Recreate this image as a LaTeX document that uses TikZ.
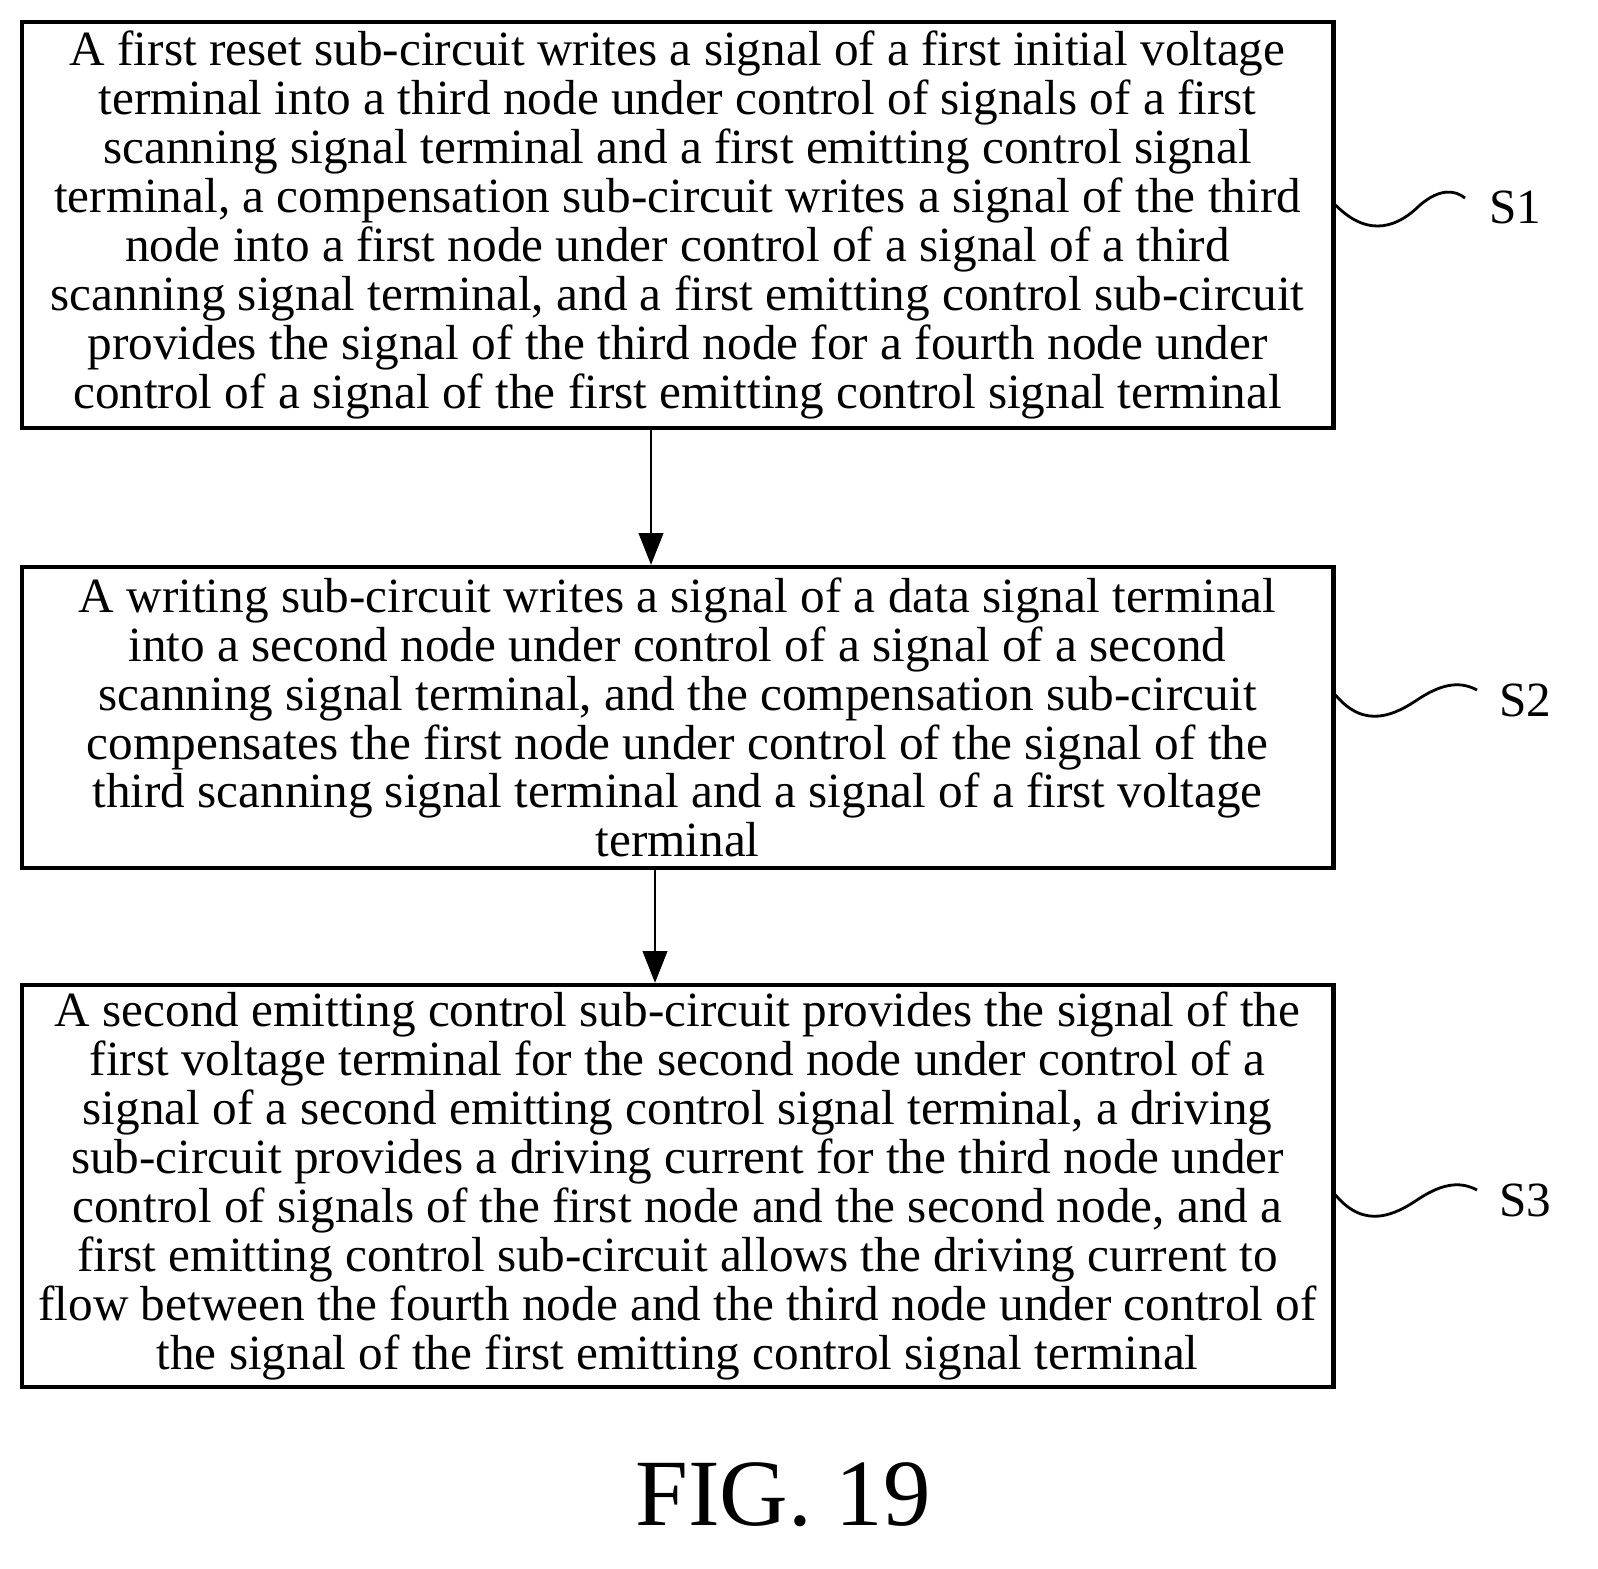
\documentclass[tikz,border=0pt]{standalone}
\usepackage{fontspec}
\setmainfont{Liberation Serif}
\usetikzlibrary{arrows.meta}
\begin{document}
\begin{tikzpicture}[x=0.01cm,y=-0.01cm,
  stepbox/.style={draw,line width=1.2pt,minimum width=13.11cm,align=center,font=\fontsize{14}{13.9}\selectfont,inner sep=0pt},
  conn/.style={-{Triangle[length=9pt,width=7pt]},line width=0.5pt},
  wave/.style={line width=0.8pt},
  lab/.style={font=\fontsize{14}{14}\selectfont}]
\useasboundingbox (0,0) rectangle (1598,1568);
\node[stepbox,minimum height=4.06cm] (b1) at (677.5,225) {A first reset sub-circuit writes a signal of a first initial voltage\\terminal into a third node under control of signals of a first\\scanning signal terminal and a first emitting control signal\\terminal, a compensation sub-circuit writes a signal of the third\\node into a first node under control of a signal of a third\\scanning signal terminal, and a first emitting control sub-circuit\\provides the signal of the third node for a fourth node under\\control of a signal of the first emitting control signal terminal};
\node[stepbox,minimum height=3.01cm] (b2) at (677.5,717.5) {A writing sub-circuit writes a signal of a data signal terminal\\into a second node under control of a signal of a second\\scanning signal terminal, and the compensation sub-circuit\\compensates the first node under control of the signal of the\\third scanning signal terminal and a signal of a first voltage\\terminal};
\node[stepbox,minimum height=4.02cm] (b3) at (677.5,1186) {A second emitting control sub-circuit provides the signal of the\\first voltage terminal for the second node under control of a\\signal of a second emitting control signal terminal, a driving\\sub-circuit provides a driving current for the third node under\\control of signals of the first node and the second node, and a\\first emitting control sub-circuit allows the driving current to\\flow between the fourth node and the third node under control of\\the signal of the first emitting control signal terminal};
\draw[conn] (b1.south -| 651,0) -- (b2.north -| 651,0);
\draw[conn] (b2.south -| 655,0) -- (b3.north -| 655,0);
\node[lab] (s1) at (1515,207) {S1};
\node[lab] (s2) at (1525,700) {S2};
\node[lab] (s3) at (1525,1200) {S3};
\coordinate (w1) at (1465,198);
\coordinate (w2) at (1477,690);
\coordinate (w3) at (1477,1190);
\draw[wave] (b1.east |- 0,205) .. controls (1370,240) and (1400,225) .. (1420,205) .. controls (1440,188) and (1455,190) .. (w1);
\draw[wave] (b2.east |- 0,695) .. controls (1365,730) and (1395,715) .. (1420,698) .. controls (1445,682) and (1462,682) .. (w2);
\draw[wave] (b3.east |- 0,1195) .. controls (1365,1230) and (1395,1215) .. (1420,1198) .. controls (1445,1182) and (1462,1182) .. (w3);
\node[font=\fontsize{27}{30}\selectfont] (fig) at (783,1495) {FIG. 19};
\end{tikzpicture}
\end{document}
